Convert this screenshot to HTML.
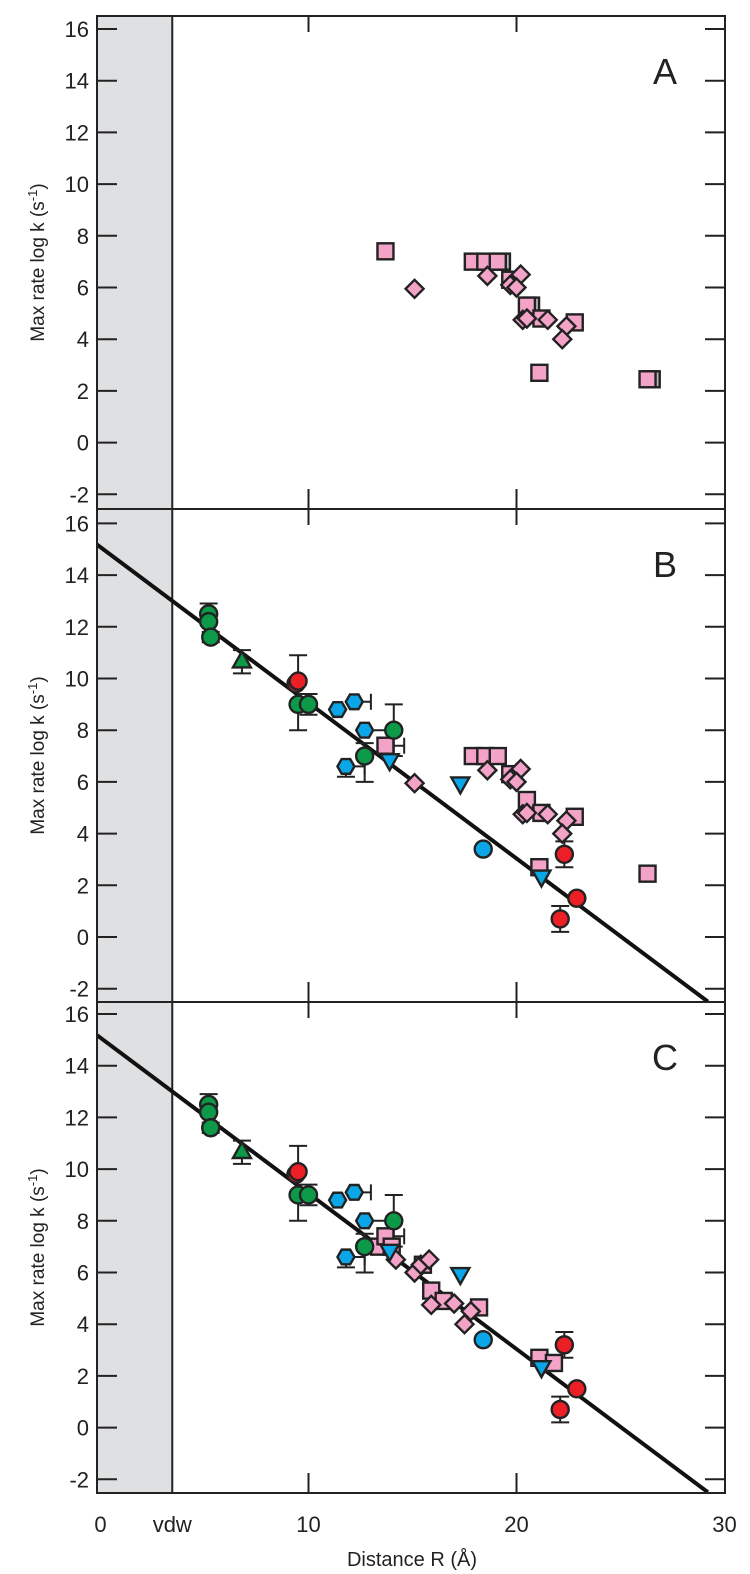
<!DOCTYPE html>
<html><head><meta charset="utf-8">
<style>
html,body{margin:0;padding:0;background:#fff;}
svg{display:block;font-family:"Liberation Sans",Arial,sans-serif;}
</style></head>
<body>
<svg id="chart" width="750" height="1574" viewBox="0 0 750 1574" xmlns="http://www.w3.org/2000/svg"></svg>
<script>
// ---- data ----
const panelLabels = ["A","B","C"];
const yTicks = [16,14,12,10,8,6,4,2,0,-2];
const xTicks = [0,10,20,30];
const fitLine = [[-0.2,15.2],[29.2,-2.5]];
const pinkSquaresAB = [[13.7,7.4],[17.9,7.0],[18.5,7.0],[19.1,7.0],[19.7,6.3],[20.5,5.3],[21.2,4.8],[22.8,4.65],[21.1,2.7],[26.3,2.45]];
const greySquaresA = [[19.3,7.0],[26.5,2.45],[20.7,5.3]];
const pinkDiamondsAB = [[15.1,5.95],[18.6,6.45],[19.7,6.1],[20.2,6.5],[20.0,6.0],[20.3,4.75],[20.5,4.8],[21.5,4.75],[22.4,4.5],[22.2,4.0]];
const pinkSquaresC = [[13.4,7.0],[13.7,7.4],[14.0,7.0],[15.5,6.3],[15.9,5.3],[16.5,4.9],[18.2,4.65],[21.1,2.7],[21.8,2.5]];
const pinkDiamondsC = [[14.2,6.5],[15.1,6.0],[15.4,6.3],[15.8,6.5],[15.9,4.75],[17.0,4.8],[17.8,4.5],[17.5,4.0]];
const greenCircles = [[5.2,12.5],[5.2,12.2],[5.3,11.6],[9.5,9.0],[10.0,9.0],[12.7,7.0],[14.1,8.0]];
const greenTriangles = [[6.8,10.7]];
const redCircles = [[9.4,9.8],[9.5,9.9],[22.1,0.7],[22.3,3.2],[22.9,1.5]];
const blueHexagons = [[11.4,8.8],[12.2,9.1],[12.7,8.0],[11.8,6.6]];
const blueCircles = [[18.4,3.4]];
const blueTriangles = [[13.9,6.8],[17.3,5.9],[21.2,2.3]];
const vErr = [[5.2,12.5,12.3,12.9],[5.3,11.6,11.4,11.8],[6.8,10.7,10.2,11.1],[9.5,9.9,8.0,10.9],[10.0,9.0,8.6,9.4],[12.7,7.0,6.0,7.5],[14.1,8.0,7.0,9.0],[22.1,0.7,0.2,1.2],[22.3,3.2,2.7,3.7],[11.8,6.6,6.2,6.6]];
const hErr = [[9.5,9.0,9.3,10.2],[12.2,9.1,12.2,13.0],[12.7,8.0,12.7,14.1],[11.8,6.6,11.8,12.7],[14.1,7.4,13.7,14.6]];

// ---- layout ----
const svg = document.getElementById('chart');
const NS = 'http://www.w3.org/2000/svg';
const L = 97, R = 725;
const panels = [{top:16,bot:509,y0:442.6},{top:509,bot:1002,y0:937},{top:1002,bot:1493,y0:1427.6}];
const sy = 25.85;
function xs(v){return 100.5 + v*20.8;}
function mk(tag, attrs, parent){const e=document.createElementNS(NS,tag);for(const k in attrs)e.setAttribute(k,attrs[k]);(parent||svg).appendChild(e);return e;}

const shade = mk('rect',{x:L,y:16,width:xs(3.45)-L,height:1493-16,fill:'#dfe0e2'});



panels.forEach((p,i)=>{
  const g = mk('g',{});
  
  
  const ys = v => p.y0 - v*sy;
  const cy = (p.top+p.bot)/2;
  const yl = mk('text',{x:44,y:cy,'font-size':19,fill:'#222','text-anchor':'middle',transform:`rotate(-90 44 ${cy})`},g);
  yl.innerHTML = 'Max rate log k (s<tspan dy="-7" font-size="13">-1</tspan><tspan dy="7">)</tspan>';
  
  
  yTicks.forEach(t=>{
    mk('line',{x1:L,x2:L+20,y1:ys(t),y2:ys(t),stroke:'#222','stroke-width':2},g);
    mk('line',{x1:R-20,x2:R,y1:ys(t),y2:ys(t),stroke:'#222','stroke-width':2},g);
    const tl = mk('text',{x:L-8,y:ys(t)+8,'font-size':22,fill:'#222','text-anchor':'end'},g);
    tl.textContent = t;
    
    
  });
  [10,20].forEach(t=>{
    mk('line',{x1:xs(t),x2:xs(t),y1:p.top,y2:p.top+16,stroke:'#222','stroke-width':2},g);
    mk('line',{x1:xs(t),x2:xs(t),y1:p.bot-20,y2:p.bot,stroke:'#222','stroke-width':2},g);
  });
  const pl = mk('text',{x:665,y:p.top+68,'font-size':36,fill:'#222','text-anchor':'middle'},g);
  pl.textContent = panelLabels[i];
  
  
  mk('line',{x1:xs(3.45),x2:xs(3.45),y1:p.top,y2:p.bot,stroke:'#222','stroke-width':2},g);
  const cid='clip'+i;
  const cp = mk('clipPath',{id:cid},g);
  mk('rect',{x:L,y:p.top,width:R-L,height:p.bot-p.top},cp);
  const data = mk('g',{'clip-path':`url(#${cid})`},g);
  if(i>0){
    const fl = mk('line',{x1:xs(fitLine[0][0]),y1:ys(fitLine[0][1]),x2:xs(fitLine[1][0]),y2:ys(fitLine[1][1]),stroke:'#111','stroke-width':4},data);
    
    
    vErr.forEach(e=>{
      mk('line',{x1:xs(e[0]),x2:xs(e[0]),y1:ys(e[2]),y2:ys(e[3]),stroke:'#222','stroke-width':2},data);
      [e[2],e[3]].forEach(v=>mk('line',{x1:xs(e[0])-9,x2:xs(e[0])+9,y1:ys(v),y2:ys(v),stroke:'#222','stroke-width':2},data));
    });
    hErr.forEach(e=>{
      mk('line',{x1:xs(e[2]),x2:xs(e[3]),y1:ys(e[1]),y2:ys(e[1]),stroke:'#222','stroke-width':2},data);
      [e[2],e[3]].forEach(v=>mk('line',{x1:xs(v),x2:xs(v),y1:ys(e[1])-8,y2:ys(e[1])+8,stroke:'#222','stroke-width':2},data));
    });
  }
  const st = {stroke:'#222','stroke-width':2.4};
  function sq(pts,fill,name){pts.forEach(d=>{const e=mk('rect',Object.assign({x:xs(d[0])-8,y:ys(d[1])-8,width:16,height:16,fill},st),data);});}
  function dia(pts,fill,name){pts.forEach(d=>{const x=xs(d[0]),y=ys(d[1]);const e=mk('polygon',Object.assign({points:`${x},${y-9} ${x+9},${y} ${x},${y+9} ${x-9},${y}`,fill},st),data);});}
  function circ(pts,fill,name){pts.forEach(d=>{const e=mk('circle',Object.assign({cx:xs(d[0]),cy:ys(d[1]),r:8.5,fill},st),data);});}
  function hex(pts,fill,name){pts.forEach(d=>{const x=xs(d[0]),y=ys(d[1]);let s='';for(let k=0;k<6;k++){const a=Math.PI/3*k;s+=`${x+8.5*Math.cos(a)},${y+8.5*Math.sin(a)} `;}const e=mk('polygon',Object.assign({points:s,fill},st),data);});}
  function tri(pts,fill,name,up){pts.forEach(d=>{const x=xs(d[0]),y=ys(d[1]);const pts2=up?`${x},${y-9} ${x+9},${y+7} ${x-9},${y+7}`:`${x-9},${y-7} ${x+9},${y-7} ${x},${y+9}`;const e=mk('polygon',Object.assign({points:pts2,fill},st),data);});}
  if(i===0){sq(greySquaresA,'#b4b7bb','grey-square');}
  if(i<2){sq(pinkSquaresAB,'#f4a3c8','pink-square');dia(pinkDiamondsAB,'#f4a3c8','pink-diamond');}
  else{sq(pinkSquaresC,'#f4a3c8','pink-square');dia(pinkDiamondsC,'#f4a3c8','pink-diamond');}
  if(i>0){
    circ(greenCircles,'#0c9a48','green-circle');
    tri(greenTriangles,'#0c9a48','green-triangle',true);
    circ(redCircles,'#ec1f26','red-circle');
    hex(blueHexagons,'#0ba6e8','blue-hexagon');
    circ(blueCircles,'#0ba6e8','blue-circle');
    tri(blueTriangles,'#0ba6e8','blue-triangle',false);
  }
  mk('rect',{x:L,y:p.top,width:R-L,height:p.bot-p.top,fill:'none',stroke:'#222','stroke-width':2},g);
});
const xlabels = [[0,'0'],[3.45,'vdw'],[10,'10'],[20,'20'],[30,'30']];
xlabels.forEach(d=>{
  const t = mk('text',{x:xs(d[0]),y:1532,'font-size':22,fill:'#222','text-anchor':'middle'});
  t.textContent = d[1];
  
  
});
const xt = mk('text',{x:412,y:1566,'font-size':20,fill:'#222','text-anchor':'middle'});
xt.textContent = 'Distance R (Å)';


</script>
</body></html>
